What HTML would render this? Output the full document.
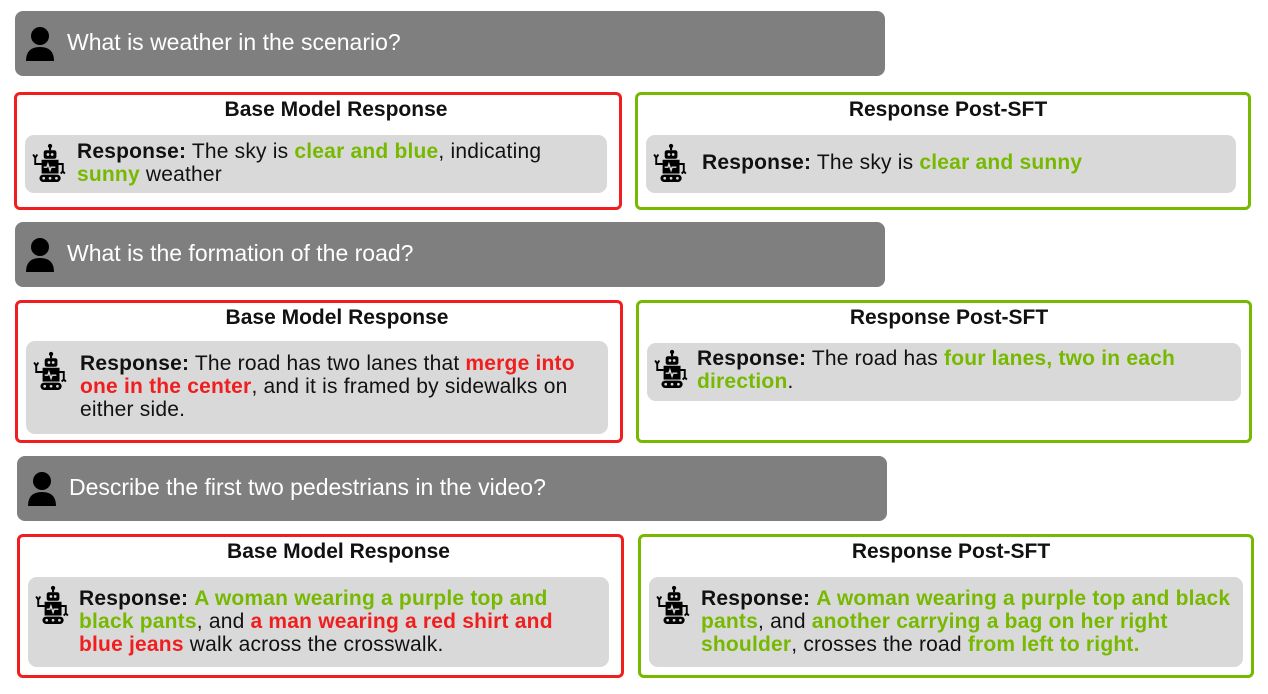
<!DOCTYPE html>
<html><head><meta charset="utf-8"><style>
body{margin:0;width:1268px;height:694px;background:#fff;font-family:"Liberation Sans",sans-serif;position:relative;overflow:hidden}
.q{position:absolute;background:#7f7f7f;border-radius:8px;height:65px;width:870px;color:#fff;font-size:23px}
.q span{position:absolute;left:52px;top:18px}
.q svg{position:absolute;left:9px;top:14px}
.b{position:absolute;border:3px solid;border-radius:6px;box-sizing:border-box}
.r{border-color:#f01e1e}.g{border-color:#76b900}
.t{position:absolute;left:0;right:0;text-align:center;font-weight:bold;font-size:21px;top:3px;color:#111}
.r .t{left:36px}.g .t{left:10px}
.in{position:absolute;background:#d9d9d9;border-radius:9px;left:8px;right:12px}
.tx{position:absolute;left:52px;font-size:21px;letter-spacing:.2px;line-height:23px;color:#111;white-space:nowrap}
.in svg{position:absolute;left:6px}
.G{color:#76b900;font-weight:bold}.R{color:#f01e1e;font-weight:bold}
</style></head><body>
<svg width="0" height="0" style="position:absolute"><defs>
<g id="p"><circle cx="16" cy="11" r="9" fill="#000"/><path d="M2 36 Q2 22 16 22 Q30 22 30 36 Z" fill="#000"/></g>
<g id="rb" fill="#000"><circle cx="18" cy="2" r="2"/><rect x="17" y="2" width="2" height="4"/><rect x="12" y="6" width="12" height="8" rx="2"/><circle cx="16" cy="10" r="1.3" fill="#d9d9d9"/><circle cx="20" cy="10" r="1.3" fill="#d9d9d9"/><rect x="10" y="15" width="16" height="13"/><path d="M12 22 l3 0 l1 -3 l2 6 l1 -3 l4 0" stroke="#d9d9d9" stroke-width="1.3" fill="none"/><path d="M10 19 L4 19 L4 12 M2 10 l2 3 l2 -3" stroke="#000" stroke-width="1.8" fill="none"/><path d="M26 19 L30 19 L30 26 M28 28 l2 -2 l2 2" stroke="#000" stroke-width="1.8" fill="none"/><rect x="8" y="29" width="20" height="7" rx="3.5"/><circle cx="12" cy="32.5" r="1.3" fill="#d9d9d9"/><circle cx="18" cy="32.5" r="1.3" fill="#d9d9d9"/><circle cx="24" cy="32.5" r="1.3" fill="#d9d9d9"/></g>
</defs></svg>

<div class="q" style="left:15px;top:11px"><svg width="32" height="36"><use href="#p"/></svg><span>What is weather in the scenario?</span></div>
<div class="b r" style="left:14px;top:92px;width:608px;height:118px"><div class="t">Base Model Response</div>
<div class="in" style="top:40px;height:58px"><svg width="36" height="42" viewBox="0 0 34 38" style="top:8px"><use href="#rb"/></svg><div class="tx" style="top:5px"><b>Response:</b> The sky is <span class="G">clear and blue</span>, indicating<br><span class="G">sunny</span> weather</div></div></div>
<div class="b g" style="left:635px;top:92px;width:616px;height:118px"><div class="t">Response Post-SFT</div>
<div class="in" style="top:40px;height:58px"><svg width="36" height="42" viewBox="0 0 34 38" style="top:8px"><use href="#rb"/></svg><div class="tx" style="top:16px;left:56px"><b>Response:</b> The sky is <span class="G">clear and sunny</span></div></div></div>

<div class="q" style="left:15px;top:222px"><svg width="32" height="36"><use href="#p"/></svg><span>What is the formation of the road?</span></div>
<div class="b r" style="left:15px;top:300px;width:608px;height:143px"><div class="t">Base Model Response</div>
<div class="in" style="top:38px;height:93px"><svg width="36" height="42" viewBox="0 0 34 38" style="top:10px"><use href="#rb"/></svg><div class="tx" style="top:11px;left:54px"><b>Response:</b> The road has two lanes that <span class="R">merge into</span><br><span class="R">one in the center</span>, and it is framed by sidewalks on<br>either side.</div></div></div>
<div class="b g" style="left:636px;top:300px;width:616px;height:143px"><div class="t">Response Post-SFT</div>
<div class="in" style="top:40px;height:58px;right:8px"><svg width="36" height="42" viewBox="0 0 34 38" style="top:6px"><use href="#rb"/></svg><div class="tx" style="top:4px;left:50px"><b>Response:</b> The road has <span class="G">four lanes, two in each</span><br><span class="G">direction</span>.</div></div></div>

<div class="q" style="left:17px;top:456px"><svg width="32" height="36"><use href="#p"/></svg><span>Describe the first two pedestrians in the video?</span></div>
<div class="b r" style="left:17px;top:534px;width:607px;height:144px"><div class="t">Base Model Response</div>
<div class="in" style="top:40px;height:90px"><svg width="36" height="42" viewBox="0 0 34 38" style="top:8px"><use href="#rb"/></svg><div class="tx" style="top:10px;left:51px"><b>Response:</b> <span class="G">A woman wearing a purple top and</span><br><span class="G">black pants</span>, and <span class="R">a man wearing a red shirt and</span><br><span class="R">blue jeans</span> walk across the crosswalk.</div></div></div>
<div class="b g" style="left:638px;top:534px;width:616px;height:144px"><div class="t">Response Post-SFT</div>
<div class="in" style="top:40px;height:90px;right:8px"><svg width="36" height="42" viewBox="0 0 34 38" style="top:8px"><use href="#rb"/></svg><div class="tx" style="top:10px;left:52px"><b>Response:</b> <span class="G">A woman wearing a purple top and black</span><br><span class="G">pants</span>, and <span class="G">another carrying a bag on her right</span><br><span class="G">shoulder</span>, crosses the road <span class="G">from left to right.</span></div></div></div>
</body></html>
